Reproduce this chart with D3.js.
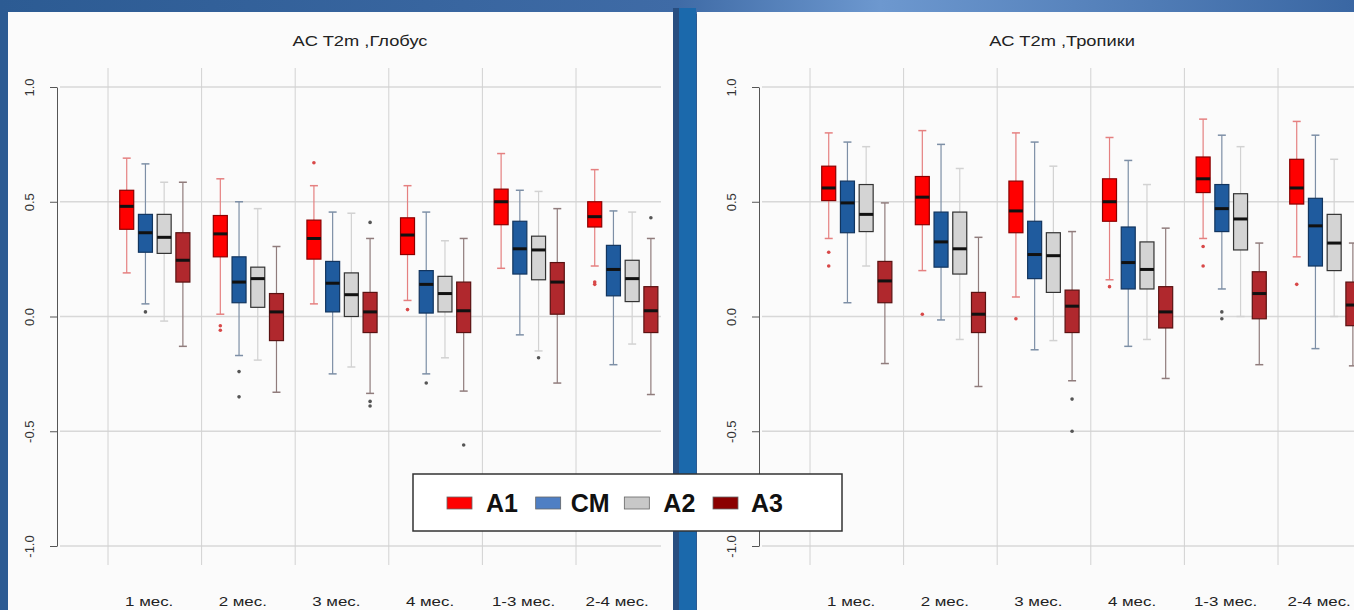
<!DOCTYPE html>
<html>
<head>
<meta charset="utf-8" />
<title>AC T2m</title>
<script src="https://cdn.jsdelivr.net/npm/d3@7"></script>
<style>
  body { margin: 0; background: #2c5b93; overflow: hidden; }
  svg { display: block; }
  text { font-family: "Liberation Sans", Arial, sans-serif; }
</style>
</head>
<body>
<svg id="chart" width="1354" height="610"></svg>
<script>
// categories and series
const periods = ["1 мес.", "2 мес.", "3 мес.", "4 мес.", "1-3 мес.", "2-4 мес."];
const series = ["A1", "CM", "A2", "A3"];
const yTicks = [-1.0, -0.5, 0.0, 0.5, 1.0];

// box stats per period: [low whisker, q1, median, q3, high whisker]
const globeA1 = [[0.19,0.38,0.48,0.55,0.69],[0.01,0.26,0.36,0.44,0.60],[0.055,0.25,0.34,0.42,0.57],
                 [0.07,0.27,0.355,0.43,0.57],[0.21,0.40,0.50,0.555,0.71],[0.22,0.39,0.435,0.50,0.64]];
const globeCM = [[0.055,0.28,0.365,0.445,0.665],[-0.17,0.06,0.15,0.26,0.50],[-0.25,0.02,0.145,0.24,0.455],
                 [-0.25,0.015,0.14,0.20,0.455],[-0.08,0.185,0.295,0.415,0.55],[-0.21,0.09,0.205,0.31,0.46]];
const globeA2 = [[-0.02,0.275,0.345,0.445,0.585],[-0.19,0.04,0.165,0.215,0.47],[-0.22,0.00,0.095,0.19,0.45],
                 [-0.18,0.02,0.10,0.175,0.33],[-0.15,0.16,0.29,0.35,0.545],[-0.12,0.065,0.165,0.245,0.455]];
const globeA3 = [[-0.13,0.15,0.245,0.365,0.585],[-0.33,-0.105,0.02,0.10,0.305],[-0.335,-0.07,0.02,0.105,0.34],
                 [-0.325,-0.07,0.025,0.15,0.34],[-0.29,0.01,0.15,0.235,0.47],[-0.34,-0.07,0.025,0.13,0.34]];

const globeA1Out = [[], [-0.04,-0.06], [0.67], [0.03], [], [0.15,0.14]];
const globeCMOut = [[0.02], [-0.24,-0.35], [], [-0.29], [], []];
const globeA2Out = [[], [], [], [], [-0.18], []];
const globeA3Out = [[], [], [0.41,-0.37,-0.39], [-0.56], [], [0.43]];

const tropA1 = [[0.34,0.505,0.56,0.655,0.80],[0.20,0.40,0.52,0.61,0.81],[0.085,0.365,0.46,0.59,0.80],
                [0.16,0.415,0.50,0.60,0.78],[0.34,0.54,0.60,0.695,0.86],[0.26,0.49,0.56,0.685,0.85]];
const tropCM = [[0.06,0.365,0.495,0.59,0.76],[-0.015,0.215,0.325,0.455,0.75],[-0.145,0.165,0.27,0.415,0.76],
                [-0.13,0.12,0.235,0.39,0.68],[0.12,0.37,0.47,0.575,0.79],[-0.14,0.22,0.395,0.515,0.79]];
const tropA2 = [[0.22,0.37,0.445,0.575,0.74],[-0.10,0.185,0.295,0.455,0.645],[-0.105,0.105,0.265,0.365,0.655],
                [-0.10,0.12,0.205,0.325,0.575],[0.00,0.29,0.425,0.535,0.74],[0.00,0.20,0.32,0.445,0.685]];
const tropA3 = [[-0.205,0.06,0.155,0.24,0.495],[-0.305,-0.07,0.01,0.105,0.345],[-0.28,-0.07,0.045,0.115,0.37],
                [-0.27,-0.05,0.02,0.13,0.385],[-0.21,-0.01,0.10,0.195,0.32],[-0.215,-0.04,0.05,0.15,0.32]];

const tropA1Out = [[0.28,0.22], [0.01], [-0.01], [0.13], [0.305,0.22], [0.14]];
const tropCMOut = [[], [], [], [], [0.02,-0.01], []];
const tropA2Out = [[], [], [], [], [], []];
const tropA3Out = [[], [], [-0.36,-0.50], [], [], []];

// styles
const fills    = ["#ff0000", "#1f5b9e", "#d4d4d4", "#b0282d"];
const borders  = ["#8a0000", "#12355f", "#333333", "#5a1212"];
const whiskers = ["#e58080", "#7d8fa6", "#d2d2d2", "#907c7c"];
const legendFills = ["#ff0000", "#4f7fc4", "#c8c8c8", "#8b0000"];

const svg = d3.select("#chart");

// slide background
const defs = svg.append("defs");
const grad = defs.append("linearGradient").attr("id", "topg");
grad.append("stop").attr("offset", "0%").attr("stop-color", "#2c5b93");
grad.append("stop").attr("offset", "50%").attr("stop-color", "#3f6ba6");
grad.append("stop").attr("offset", "65%").attr("stop-color", "#6d98cf");
grad.append("stop").attr("offset", "100%").attr("stop-color", "#3a67a3");
svg.append("rect").attr("width", 1354).attr("height", 610).attr("fill", "#2c5b93");
svg.append("rect").attr("width", 1354).attr("height", 14).attr("fill", "url(#topg)");
svg.append("rect").attr("x", 8).attr("y", 12).attr("width", 665).attr("height", 600).attr("fill", "#fbfbfb");
svg.append("rect").attr("x", 697).attr("y", 12).attr("width", 660).attr("height", 600).attr("fill", "#fbfbfb");
svg.append("rect").attr("x", 673).attr("y", 8).attr("width", 6).attr("height", 602).attr("fill", "#284e80");
svg.append("rect").attr("x", 679).attr("y", 8).attr("width", 17).attr("height", 602).attr("fill", "#1b69ac");

const y = d3.scaleLinear().domain([-1, 1]).range([546, 87]);

function drawPanel(dx, title, stats, outs) {
  const x = d3.scaleLinear().domain([0, 25]).range([108 + dx, 576 + dx]);
  const g = svg.append("g");

  g.selectAll(".hg").data(yTicks).join("line")
    .attr("x1", 60 + dx).attr("x2", 661 + dx)
    .attr("y1", d => y(d)).attr("y2", d => y(d))
    .attr("stroke", "#d8d8d8").attr("stroke-width", 1.5);

  g.selectAll(".vg").data(d3.range(0, 26, 5)).join("line")
    .attr("x1", d => x(d)).attr("x2", d => x(d))
    .attr("y1", 68).attr("y2", 565)
    .attr("stroke", "#d2d2d2").attr("stroke-width", 1);

  const axis = d3.axisLeft(y).tickValues(yTicks).tickSize(7).tickSizeOuter(0)
    .tickFormat(d => d.toFixed(1));
  const ag = g.append("g").attr("transform", `translate(${57 + dx},0)`).call(axis);
  ag.select(".domain").attr("stroke", "#555");
  ag.selectAll(".tick line").attr("stroke", "#555");
  ag.selectAll(".tick text")
    .attr("transform", "rotate(-90)")
    .attr("x", 0).attr("y", -23).attr("dy", 0)
    .attr("text-anchor", "middle")
    .attr("fill", "#333").style("font-size", "13px");

  g.append("text")
    .attr("transform", `translate(${360 + dx},46) scale(1.22,1)`)
    .attr("text-anchor", "middle").attr("fill", "#222")
    .style("font-size", "15px").text(title);

  g.selectAll(".xl").data(periods).join("text")
    .attr("transform", (d, i) => `translate(${x(i * 5 + 2.2)},606) scale(1.3,1)`)
    .attr("text-anchor", "middle").attr("fill", "#222")
    .style("font-size", "13px").text(d => d);

  const bw = 14;
  series.forEach((s, si) => {
    const items = stats[si].map((v, gi) => ({
      cx: x(gi * 5 + si + 1), lo: v[0], q1: v[1], med: v[2], q3: v[3], hi: v[4], out: outs[si][gi]
    }));
    const bg = g.append("g");
    // whiskers
    bg.selectAll(".wu").data(items).join("line")
      .attr("x1", d => d.cx).attr("x2", d => d.cx)
      .attr("y1", d => y(d.hi)).attr("y2", d => y(d.q3))
      .attr("stroke", whiskers[si]).attr("stroke-width", 1.2);
    bg.selectAll(".wl").data(items).join("line")
      .attr("x1", d => d.cx).attr("x2", d => d.cx)
      .attr("y1", d => y(d.q1)).attr("y2", d => y(d.lo))
      .attr("stroke", whiskers[si]).attr("stroke-width", 1.2);
    // staples
    ["hi", "lo"].forEach(k => {
      bg.selectAll(".st" + k).data(items).join("line")
        .attr("x1", d => d.cx - 4).attr("x2", d => d.cx + 4)
        .attr("y1", d => y(d[k])).attr("y2", d => y(d[k]))
        .attr("stroke", whiskers[si]).attr("stroke-width", 1.5);
    });
    // boxes
    bg.selectAll(".bx").data(items).join("rect")
      .attr("x", d => d.cx - bw / 2).attr("width", bw)
      .attr("y", d => y(d.q3)).attr("height", d => y(d.q1) - y(d.q3))
      .attr("fill", fills[si]).attr("stroke", borders[si]).attr("stroke-width", 1.2);
    // medians
    bg.selectAll(".md").data(items).join("line")
      .attr("x1", d => d.cx - bw / 2).attr("x2", d => d.cx + bw / 2)
      .attr("y1", d => y(d.med)).attr("y2", d => y(d.med))
      .attr("stroke", "#111").attr("stroke-width", 3);
    // outliers
    const pts = items.flatMap(d => d.out.map(o => ({ cx: d.cx, v: o })));
    bg.selectAll(".ol").data(pts).join("circle")
      .attr("cx", d => d.cx).attr("cy", d => y(d.v)).attr("r", 1.8)
      .attr("fill", si === 0 ? "#d84848" : "#555");
  });
}

drawPanel(0, "AC  T2m ,Глобус", [globeA1, globeCM, globeA2, globeA3],
  [globeA1Out, globeCMOut, globeA2Out, globeA3Out]);
drawPanel(702, "AC  T2m ,Тропики", [tropA1, tropCM, tropA2, tropA3],
  [tropA1Out, tropCMOut, tropA2Out, tropA3Out]);

// legend overlay
const lg = svg.append("g");
lg.append("rect").attr("x", 413).attr("y", 474).attr("width", 429).attr("height", 57)
  .attr("fill", "#fff").attr("stroke", "#333").attr("stroke-width", 1.5);
const legX = d3.scalePoint().domain(series).range([447, 713]);
const legTextDx = [39, 35, 39, 38];
lg.selectAll(".sw").data(series).join("rect")
  .attr("x", d => legX(d)).attr("y", 497).attr("width", 25).attr("height", 12)
  .attr("fill", (d, i) => legendFills[i]).attr("stroke", "#666").attr("stroke-width", 0.8);
lg.selectAll(".lt").data(series).join("text")
  .attr("x", (d, i) => legX(d) + legTextDx[i]).attr("y", 512)
  .attr("fill", "#111").style("font-size", "25px").style("font-weight", "bold")
  .text(d => d);
</script>
</body>
</html>
